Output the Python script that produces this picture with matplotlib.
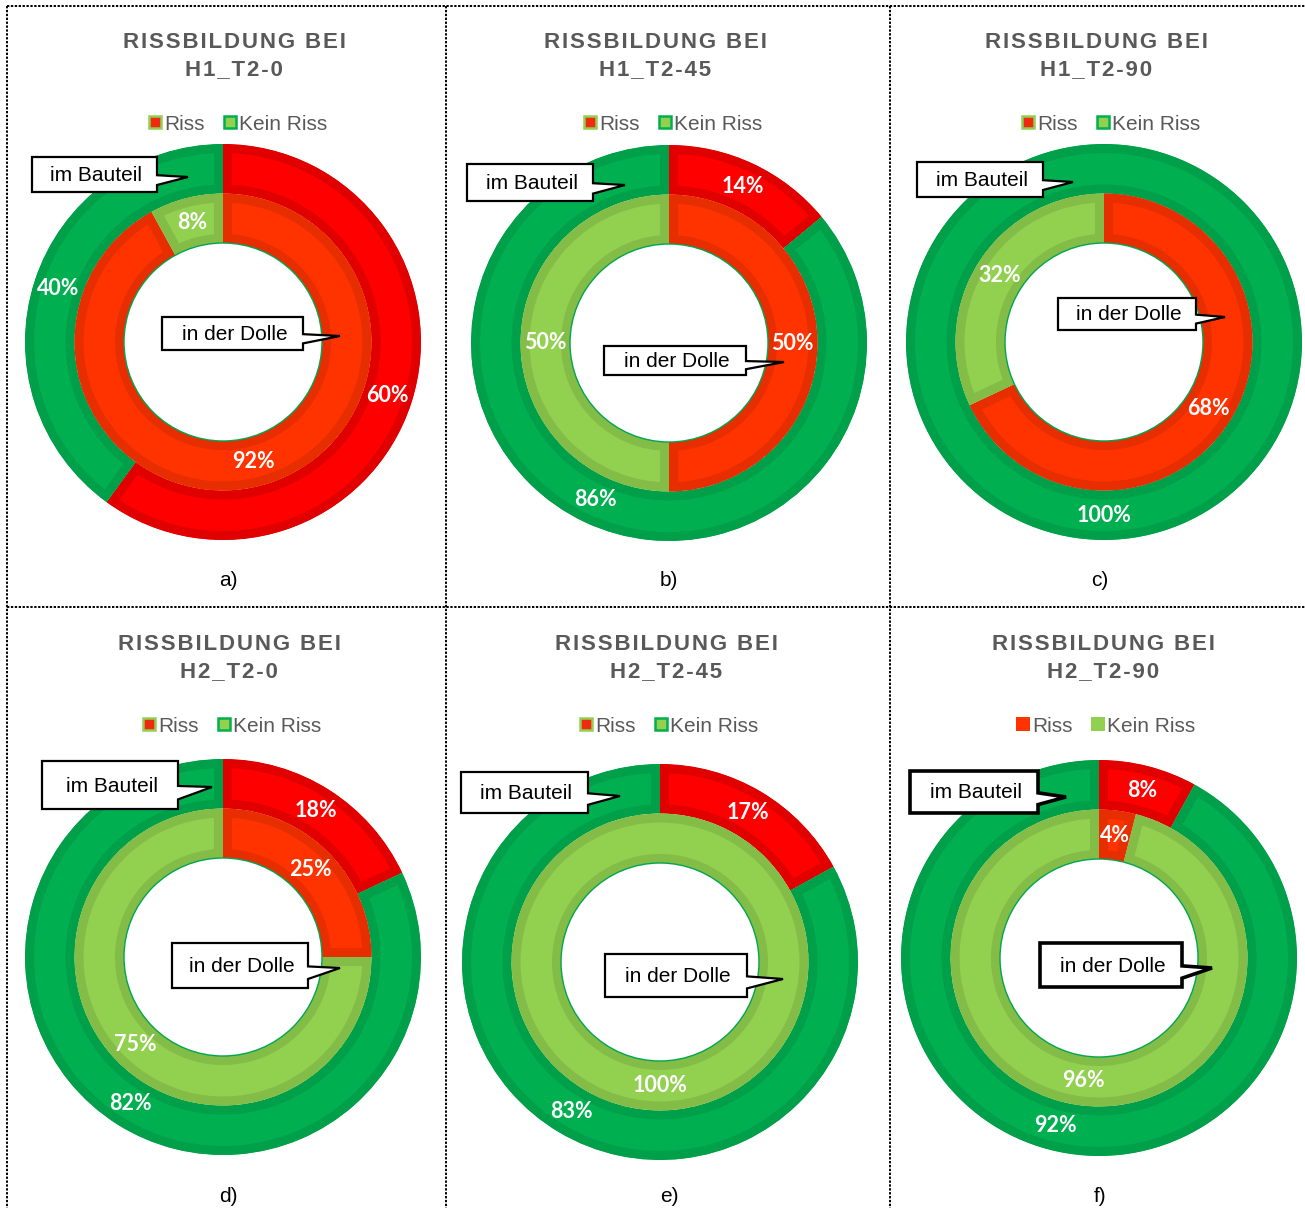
import numpy as np
import matplotlib.pyplot as plt
from matplotlib.patches import Rectangle, Polygon, Circle

W, H = 1305, 1208

# Rissbildung je Versuchsreihe, Anteile in %
tags = ["H1_T2-0", "H1_T2-45", "H1_T2-90", "H2_T2-0", "H2_T2-45", "H2_T2-90"]
captions = ["a)", "b)", "c)", "d)", "e)", "f)"]
bauteil_riss = [60, 14, 0, 18, 17, 8]
bauteil_kein = [40, 86, 100, 82, 83, 92]
dolle_riss = [92, 50, 68, 25, 0, 4]
dolle_kein = [8, 50, 32, 75, 100, 96]

# layout in pixels
centers = [(223, 342), (669, 343), (1104, 342), (223, 957), (660, 962), (1099, 958)]
R = 198
title_x = [234, 655, 1096, 229, 666, 1103]
legend_x = [238, 673, 1111, 232, 669, 1106]
caption_x = [228, 669, 1100, 228, 669, 1100]
caption_y = [580, 580, 580, 1196, 1196, 1196]
# x0, y0, x1, y1, tip x, tip y
box_bauteil = [(32, 157, 157, 192, 188, 177), (467, 164, 593, 201, 625, 185),
               (917, 162, 1043, 197, 1073, 182), (42, 761, 178, 809, 212, 787),
               (461, 772, 588, 813, 620, 796), (910, 771, 1038, 813, 1066, 797)]
box_dolle = [(162, 317, 303, 350, 340, 336), (604, 346, 746, 375, 784, 362),
             (1058, 298, 1196, 330, 1225, 317), (172, 943, 308, 988, 340, 968),
             (605, 954, 747, 997, 783, 979), (1040, 943, 1182, 987, 1212, 968)]

outer_cols = ["#FF0000", "#00B050"]
outer_band = ["#E00000", "#00A04A"]
inner_cols = ["#FF3300", "#92D050"]
inner_band = ["#E62E00", "#84BC48"]
grey = "#595959"

fig = plt.figure(figsize=(W / 100, H / 100), dpi=100)


def ring(ax, vals, radius, cols, bands):
    wedges, _ = ax.pie(vals, radius=radius, startangle=90, counterclock=False,
                       colors=cols, wedgeprops=dict(width=0.25, linewidth=0))
    for w, v, b in zip(wedges, vals, bands):
        if v == 0:
            w.set_visible(False)
            continue
        # darker inner rim: stroke clipped to the wedge itself
        w.set_edgecolor(b)
        w.set_linewidth(13)
        w.set_clip_on(True)
        w.set_clip_path(w)
        mid = np.deg2rad((w.theta1 + w.theta2) / 2)
        rm = w.r - w.width / 2
        ax.text(rm * np.cos(mid), rm * np.sin(mid), f"{v}%", color="white",
                ha="center", va="center", fontsize=15.5, fontweight="bold",
                family=["Lato", "DejaVu Sans"], zorder=5)


for i in range(6):
    cx, cy = centers[i]
    ax = fig.add_axes([(cx - R) / W, 1 - (cy + R) / H, 2 * R / W, 2 * R / H])
    ring(ax, [bauteil_riss[i], bauteil_kein[i]], 1.0, outer_cols, outer_band)
    ring(ax, [dolle_riss[i], dolle_kein[i]], 0.75, inner_cols, inner_band)
    ax.add_patch(Circle((0, 0), 0.5, fill=False, edgecolor="#00A651", linewidth=1))
    ax.set_xlim(-1, 1)
    ax.set_ylim(-1, 1)
    ax.set_aspect("equal")
    ax.axis("off")

# overlay for frame, titles, legends and callouts
ov = fig.add_axes([0, 0, 1, 1], zorder=10)
ov.set_xlim(0, W)
ov.set_ylim(H, 0)
ov.axis("off")
ov.patch.set_alpha(0)

dot = dict(color="black", linewidth=1.4, linestyle=(0, (1.2, 0.8)))
ov.plot([7, W], [6, 6], **dot)
ov.plot([7, 7], [6, H], **dot)
ov.plot([446, 446], [6, H], **dot)
ov.plot([890, 890], [6, H], **dot)
ov.plot([7, W], [607, 607], **dot)


def callout(b, text, lw):
    x0, y0, x1, y1, tx, ty = b
    h = y1 - y0
    pts = [(x0, y0), (x1, y0), (x1, y0 + 0.52 * h), (tx, ty),
           (x1, y0 + 0.8 * h), (x1, y1), (x0, y1)]
    ov.add_patch(Polygon(pts, closed=True, facecolor="white", edgecolor="black",
                         linewidth=lw, joinstyle="miter"))
    ov.text((x0 + x1) / 2 + 2, (y0 + y1) / 2 + 1, text, ha="center", va="center",
            fontsize=15, family="Liberation Sans", color="black")


def spaced(s):
    return "\u200a".join(s)


title_font = dict(ha="center", va="center", fontsize=16, fontweight="bold",
                  color=grey, family=["Liberation Sans", "DejaVu Sans"])

for i in range(6):
    top = 0 if i < 3 else 602
    ov.text(title_x[i], top + 42, spaced("RISSBILDUNG BEI"), **title_font)
    ov.text(title_x[i], top + 70, spaced(tags[i]), **title_font)

    ly = top + 122
    lx = legend_x[i]
    if i == 5:
        ov.add_patch(Rectangle((lx - 90, ly - 7), 14, 14, facecolor="#FF3300", linewidth=0))
        ov.add_patch(Rectangle((lx - 15, ly - 7), 14, 14, facecolor="#92D050", linewidth=0))
    else:
        ov.add_patch(Rectangle((lx - 89, ly - 6), 12, 12, facecolor="#EE2A10",
                               edgecolor="#92D050", linewidth=1.8))
        ov.add_patch(Rectangle((lx - 14, ly - 6), 12, 12, facecolor="#92D050",
                               edgecolor="#00B050", linewidth=1.8))
    ov.text(lx - 74, ly + 2, "Riss", ha="left", va="center", fontsize=15,
            color=grey, family="Liberation Sans")
    ov.text(lx + 1, ly + 2, "Kein Riss", ha="left", va="center", fontsize=15,
            color=grey, family="Liberation Sans")

    lw = 2.6 if i == 5 else 1.6
    callout(box_bauteil[i], "im Bauteil", lw)
    callout(box_dolle[i], "in der Dolle", lw)

    ov.text(caption_x[i], caption_y[i], captions[i], ha="center", va="center",
            fontsize=15, family="Liberation Sans", color="black")

fig.savefig("out.png", dpi=100)
